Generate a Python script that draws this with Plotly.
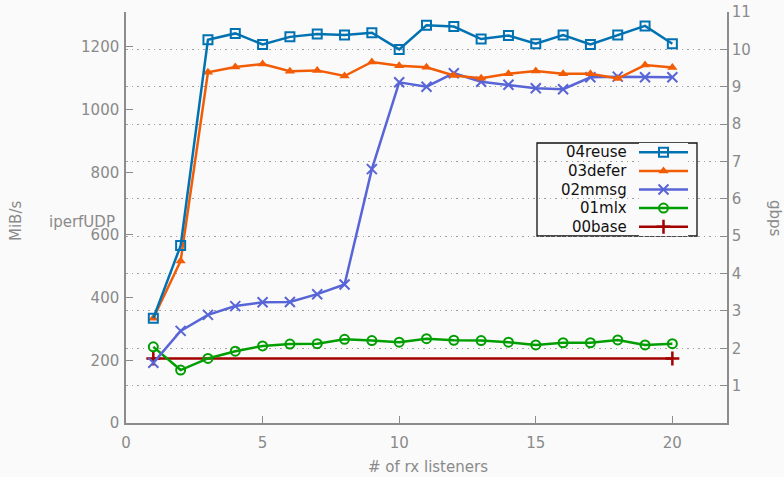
import plotly.graph_objects as go

# receiver count on the x axis
listeners = list(range(1, 21))

# throughput in MiB/s for each build
reuse04 = [334, 566, 1223, 1243, 1208, 1232, 1241, 1238, 1245, 1192,
           1269, 1265, 1225, 1236, 1210, 1238, 1208, 1238, 1267, 1210]
defer03 = [334, 517, 1119, 1136, 1145, 1122, 1125, 1107, 1152, 1140,
           1135, 1109, 1100, 1114, 1123, 1114, 1114, 1099, 1142, 1134]
mmsg02 = [192, 294, 345, 373, 385, 386, 411, 442, 810, 1087,
          1073, 1116, 1089, 1079, 1068, 1065, 1103, 1105, 1103, 1103]
mlx01 = [243, 169, 206, 229, 246, 252, 253, 267, 263, 258,
         269, 264, 263, 258, 249, 256, 256, 265, 249, 253]
base00_x = [1, 20]
base00 = [206, 206]

GBPS_MAX = 11
MIB_MAX = GBPS_MAX * 1e9 / 8 / 2**20  # left axis range matching 11 gbps

FONT = "DejaVu Sans"
GREY = "#8a8a8a"
AXIS = "#8c8c8c"
BG = "#fafafa"
FS = 15

series = [
    ("04reuse", listeners, reuse04, "#0072b2",
     dict(symbol="square-open", size=9, line=dict(width=2))),
    ("03defer", listeners, defer03, "#f25c05",
     dict(symbol="triangle-up", size=9)),
    ("02mmsg", listeners, mmsg02, "#5865d6",
     dict(symbol="x-thin-open", size=10, line=dict(width=2))),
    ("01mlx", listeners, mlx01, "#009e00",
     dict(symbol="circle-open", size=9, line=dict(width=2))),
    ("00base", base00_x, base00, "#a30000",
     dict(symbol="cross-thin-open", size=10, line=dict(width=2.5))),
]


def marker_for(marker, color):
    m = dict(marker)
    m["color"] = color
    if "line" in m:
        m["line"] = dict(m["line"], color=color)
    return m


# plot area in pixels: left 126, right 727, top 12, bottom 423 (784x477)
W, H = 784, 477
L, R, T, B = 126, 727, 12, 423


def px_x(p):
    return (p - L) / (R - L)


def px_y(p):
    return (B - p) / (B - T)


fig = go.Figure()

# draw in reverse so the first series ends up on top
for name, xs, ys, color, marker in reversed(series):
    fig.add_trace(go.Scatter(
        x=xs, y=ys, name=name, mode="lines+markers",
        line=dict(color=color, width=2.5), marker=marker_for(marker, color),
        showlegend=False, xaxis="x", yaxis="y",
    ))

# invisible trace so the gbps axis is drawn
fig.add_trace(go.Scatter(x=[None], y=[None], xaxis="x", yaxis="y2",
                         showlegend=False, hoverinfo="skip"))

# key box: label on the left, line sample with marker on the right
KEY_TOP, KEY_BOTTOM = 143, 236
row_h = (KEY_BOTTOM - KEY_TOP) / len(series)
for i, (name, xs, ys, color, marker) in enumerate(series):
    fig.add_trace(go.Scatter(
        x=[0, 0.5, 1], y=[i, i, i], mode="lines",
        line=dict(color=color, width=2.5), showlegend=False,
        xaxis="x3", yaxis="y3", hoverinfo="skip",
    ))
    fig.add_trace(go.Scatter(
        x=[0.5], y=[i], mode="markers", marker=marker_for(marker, color),
        showlegend=False, xaxis="x3", yaxis="y3", hoverinfo="skip",
    ))
    fig.add_annotation(
        x=px_x(629), y=px_y(KEY_TOP + row_h * (i + 0.5)),
        xref="paper", yref="paper", text=name, showarrow=False,
        xanchor="right", yanchor="middle",
        font=dict(family=FONT, size=FS, color="#111111"),
    )

fig.add_shape(type="rect", xref="paper", yref="paper",
              x0=px_x(537), x1=px_x(697), y0=px_y(KEY_BOTTOM), y1=px_y(KEY_TOP),
              line=dict(color="#111111", width=1.3), fillcolor=BG, layer="below")

fig.add_annotation(x=px_x(117), y=px_y(222), xref="paper", yref="paper",
                   text="iperfUDP", showarrow=False, xanchor="right",
                   yanchor="middle", font=dict(family=FONT, size=FS, color=GREY))
fig.add_annotation(x=px_x(16), y=px_y(221), xref="paper", yref="paper",
                   text="MiB/s", showarrow=False, textangle=-90,
                   xanchor="center", yanchor="middle",
                   font=dict(family=FONT, size=FS, color=GREY))
fig.add_annotation(x=px_x(775), y=px_y(218), xref="paper", yref="paper",
                   text="gbps", showarrow=False, textangle=90,
                   xanchor="center", yanchor="middle",
                   font=dict(family=FONT, size=FS, color=GREY))
fig.add_annotation(x=px_x(428), y=px_y(467), xref="paper", yref="paper",
                   text="# of rx listeners", showarrow=False,
                   xanchor="center", yanchor="middle",
                   font=dict(family=FONT, size=FS, color=GREY))

tickfont = dict(family=FONT, size=FS, color=GREY)

fig.update_layout(
    width=W, height=H,
    margin=dict(l=L, r=W - R, t=T, b=H - B, autoexpand=False),
    paper_bgcolor=BG, plot_bgcolor=BG,
    showlegend=False,
    xaxis=dict(
        range=[0, 22], tickvals=[0, 5, 10, 15, 20], ticks="inside",
        ticklen=7, tickcolor=AXIS, tickwidth=1, showline=True,
        linecolor=AXIS, linewidth=1.5, showgrid=False, zeroline=False,
        tickfont=tickfont, ticklabelstandoff=5, automargin=False,
    ),
    yaxis=dict(
        range=[0, MIB_MAX], tickvals=[0, 200, 400, 600, 800, 1000, 1200],
        ticks="inside", ticklen=7, tickcolor=AXIS, tickwidth=1,
        showline=True, linecolor=AXIS, linewidth=1.5, showgrid=False,
        zeroline=False, tickfont=tickfont, ticklabelstandoff=2,
        automargin=False,
    ),
    yaxis2=dict(
        range=[0, GBPS_MAX], tickvals=list(range(1, 12)), overlaying="y",
        side="right", ticks="inside", ticklen=7, tickcolor=AXIS,
        showline=True, linecolor=AXIS, linewidth=1.5, showgrid=True,
        gridcolor="#a0a0a0", griddash="1.5px,4px", gridwidth=1,
        zeroline=False, tickfont=tickfont, automargin=False,
    ),
    xaxis3=dict(domain=[px_x(639), px_x(688)], range=[0, 1], visible=False,
                anchor="y3"),
    yaxis3=dict(domain=[px_y(KEY_BOTTOM), px_y(KEY_TOP)],
                range=[len(series) - 0.5, -0.5], visible=False, anchor="x3"),
)

fig.write_html("out.html")
